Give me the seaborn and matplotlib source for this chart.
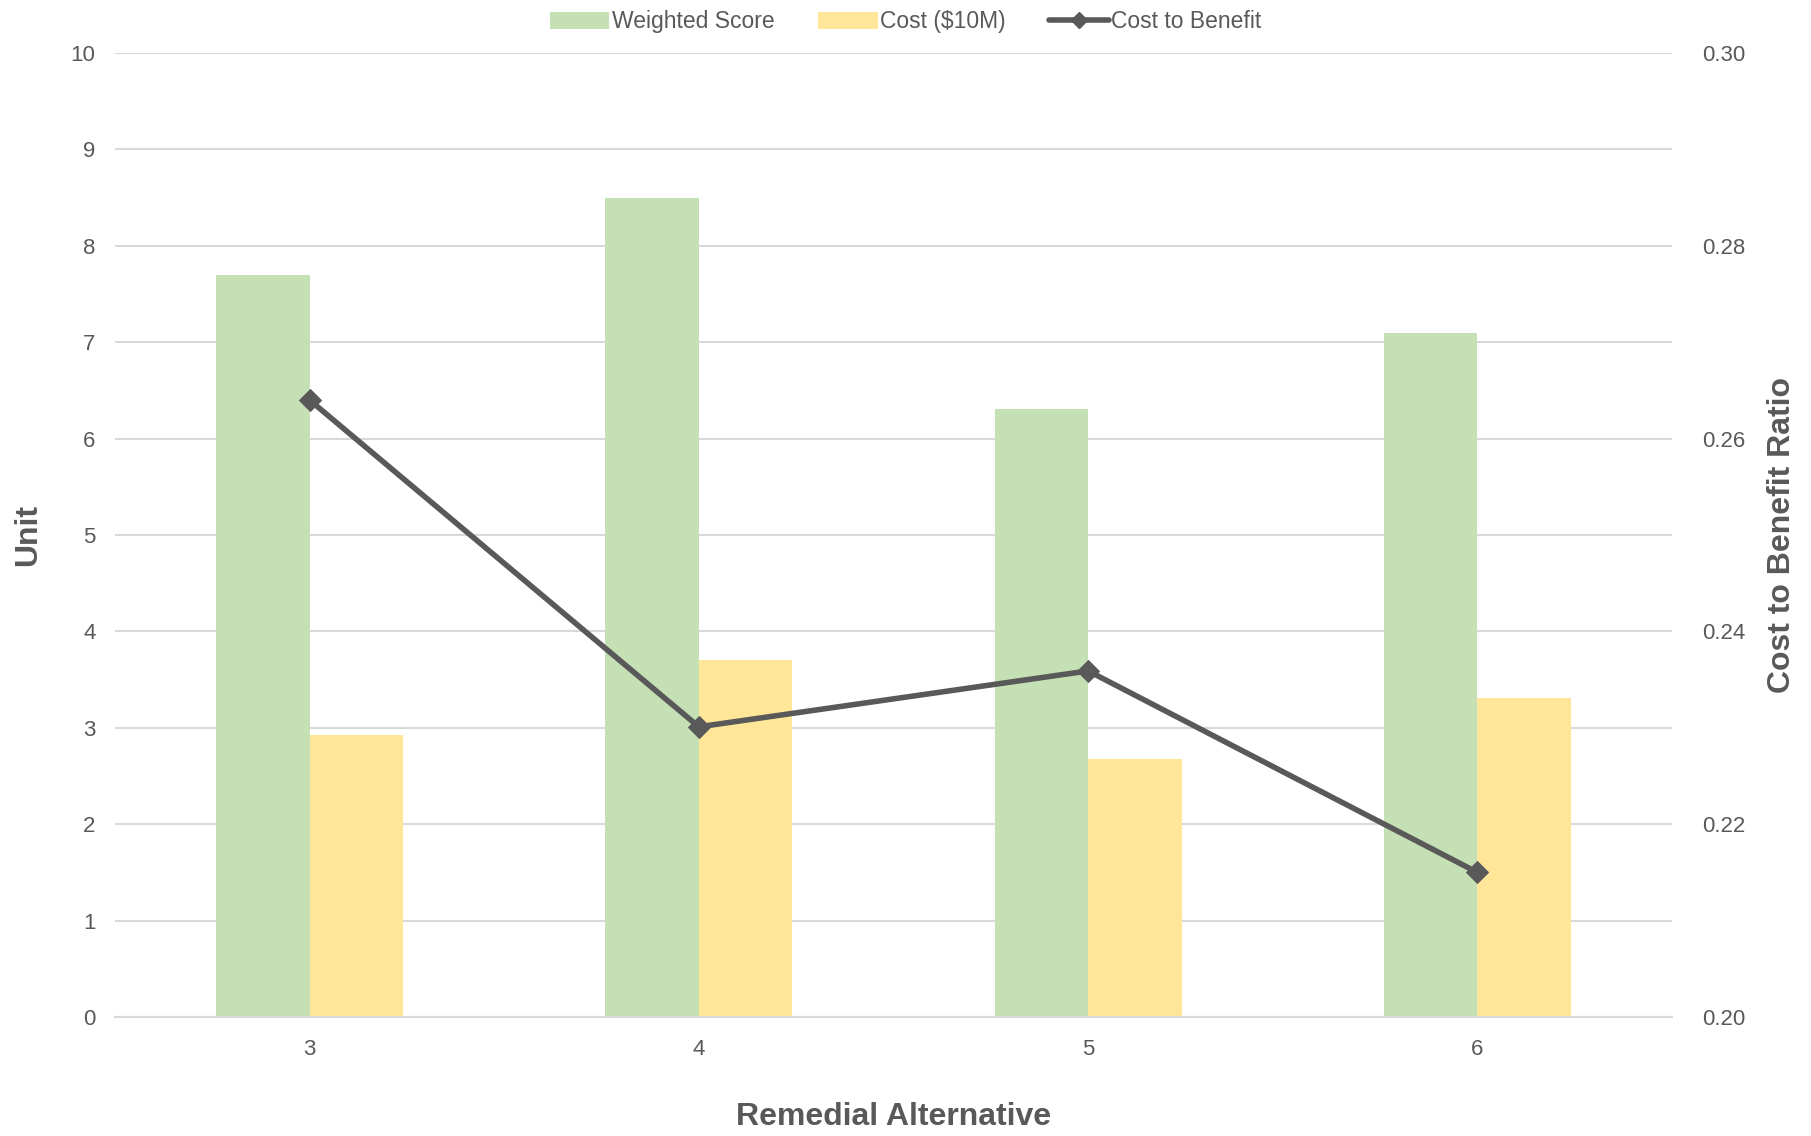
import matplotlib
matplotlib.use("Agg")
import matplotlib.pyplot as plt
import seaborn as sns
import pandas as pd
from matplotlib.patches import Patch
from matplotlib.lines import Line2D

alternatives = ["3", "4", "5", "6"]
weighted_score = [7.70, 8.50, 6.31, 7.10]
cost_10m = [2.93, 3.70, 2.68, 3.31]
cost_to_benefit = [0.264, 0.2301, 0.2359, 0.2150]

GREEN = "#C5E0B4"
YELLOW = "#FFE699"
LINE = "#595959"
GRID = "#D9D9D9"
TXT = "#595959"

sns.set_theme(style="white")
plt.rcParams["font.family"] = ["Liberation Sans", "DejaVu Sans"]

df = pd.DataFrame({
    "alt": alternatives * 2,
    "value": weighted_score + cost_10m,
    "series": ["Weighted Score"] * 4 + ["Cost ($10M)"] * 4,
})

fig = plt.figure(figsize=(18.11, 11.36), dpi=100)
ax = fig.add_axes([115 / 1811, 1 - 1017 / 1136, (1672 - 115) / 1811, (1017 - 53) / 1136])

sns.barplot(data=df, x="alt", y="value", hue="series", order=alternatives,
            hue_order=["Weighted Score", "Cost ($10M)"],
            palette=[GREEN, YELLOW], width=0.48, gap=0, saturation=1,
            ax=ax, legend=False, zorder=2)
for p in ax.patches:
    p.set_edgecolor("none")

ax.set_ylim(0, 10)
ax.set_yticks(range(0, 11))
ax.set_xlim(-0.5, 3.5)
ax.yaxis.grid(True, color=GRID, linewidth=1.5, zorder=0)
ax.set_axisbelow(True)
for s in ["top", "left", "right"]:
    ax.spines[s].set_visible(False)
ax.spines["bottom"].set_color(GRID)
ax.spines["bottom"].set_linewidth(1.5)
ax.tick_params(axis="both", length=0, labelsize=16, labelcolor=TXT, pad=14)
ax.tick_params(axis="x", pad=16)
ax.set_xlabel("Remedial Alternative", fontsize=23, fontweight="bold", color=TXT, labelpad=30)
ax.set_ylabel("Unit", fontsize=23, fontweight="bold", color=TXT, labelpad=20)

ax2 = ax.twinx()
ldf = pd.DataFrame({"x": range(len(alternatives)), "ratio": cost_to_benefit})
sns.lineplot(data=ldf, x="x", y="ratio", ax=ax2, color=LINE, linewidth=4,
             marker="D", markersize=11, markeredgecolor=LINE, zorder=5)
ax2.set_ylim(0.20, 0.30)
ax2.set_yticks([0.20, 0.22, 0.24, 0.26, 0.28, 0.30])
ax2.set_yticklabels([f"{v:.2f}" for v in [0.20, 0.22, 0.24, 0.26, 0.28, 0.30]])
ax2.set_xlim(-0.5, 3.5)
for s in ["top", "left", "right", "bottom"]:
    ax2.spines[s].set_visible(False)
ax2.tick_params(axis="y", length=0, labelsize=16, labelcolor=TXT, pad=22)
ax2.set_ylabel("Cost to Benefit Ratio", fontsize=23, fontweight="bold", color=TXT, labelpad=15)
ax2.set_xlabel("")

handles = [
    Patch(facecolor=GREEN, edgecolor="none"),
    Patch(facecolor=YELLOW, edgecolor="none"),
    Line2D([0], [0], color=LINE, linewidth=4, marker="D", markersize=8),
]
fig.legend(handles, ["Weighted Score", "Cost ($10M)", "Cost to Benefit"],
           loc="upper center", bbox_to_anchor=(0.5, 1.009), ncol=3, frameon=False,
           fontsize=16.5, labelcolor=TXT, handlelength=2.6, handletextpad=0.1,
           columnspacing=1.9, handleheight=0.8)

fig.savefig("out.png", dpi=100)
